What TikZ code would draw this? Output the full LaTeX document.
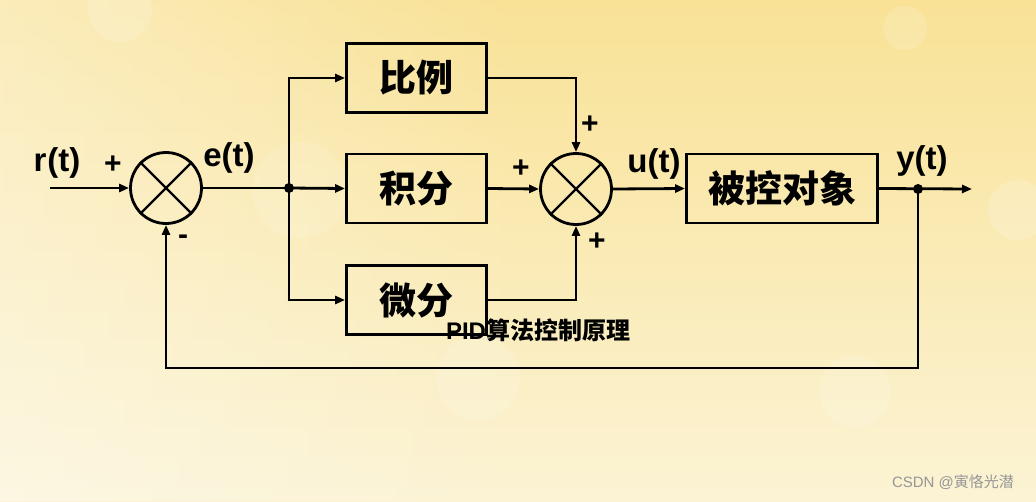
\documentclass[tikz,border=0pt]{standalone}
\usepackage{fontspec}
\setmainfont{Liberation Sans}
\newfontfamily\cjk{Noto Sans CJK SC}
\usetikzlibrary{arrows.meta,fadings}
\definecolor{bgtop}{RGB}{249,226,150}
\definecolor{bgbot}{RGB}{251,243,212}
\definecolor{wm}{RGB}{150,150,150}
\begin{document}
\begin{tikzpicture}[x=1pt,y=-1pt,
  line width=2.8pt,
  >={Triangle[length=10pt,width=8pt]},
  blk/.style={draw, rectangle, inner sep=0pt, minimum width=140pt, minimum height=69pt, font=\cjk\bfseries\fontsize{37}{40}\selectfont},
  sumnode/.style={draw, circle, inner sep=0pt, minimum size=71pt},
  lbl/.style={font=\bfseries\fontsize{33}{36}\selectfont, inner sep=0pt},
  sgn/.style={font=\bfseries\fontsize{30}{32}\selectfont, inner sep=0pt},
  jdot/.style={circle, fill=black, inner sep=0pt, minimum size=10pt}]
\useasboundingbox (0,0) rectangle (1036,501);
% background
\shade[top color=bgtop, bottom color=bgbot, draw=none] (0,0) rectangle (1036,501);
\fill[white, path fading=east, fill opacity=0.35, draw=none] (0,0) rectangle (520,501);
\begin{scope}[draw=none]
\fill[white, opacity=0.15] (120,10) circle (32);
\fill[white, opacity=0.15] (905,28) circle (22);
\fill[white, opacity=0.12] (300,190) circle (48);
\fill[white, opacity=0.15] (478,378) circle (42);
\fill[white, opacity=0.15] (855,392) circle (36);
\fill[white, opacity=0.18] (1018,210) circle (30);
\end{scope}
% nodes
\node[sumnode] (s1) at (166,188) {};
\draw[line width=2.2pt] (s1.45) -- (s1.225) (s1.135) -- (s1.-45);
\node[sumnode] (s2) at (576,189) {};
\draw[line width=2.2pt] (s2.45) -- (s2.225) (s2.135) -- (s2.-45);
\node[blk] (p) at (416.5,78) {比例};
\node[blk] (i) at (416.5,188.5) {积分};
\node[blk] (d) at (416.5,300) {微分};
\node[blk, minimum width=191pt] (g) at (782,188.5) {被控对象};
\node[jdot] (j1) at (289,188) {};
\node[jdot] (j2) at (918,189) {};
\coordinate (rin) at (50,188);
\coordinate (yout) at (972,189);
\coordinate (fb) at (918,368);
% connectors
\draw[->] (rin) -- (s1.west);
\draw (s1.east) -- (j1.center);
\draw[->] (j1.center) |- (p.west);
\draw[->] (j1.center) -- (i.west);
\draw[->] (j1.center) |- (d.west);
\draw[->] (p.east) -| (s2.north);
\draw[->] (i.east) -- (s2.west);
\draw[->] (d.east) -| (s2.south);
\draw[->] (s2.east) -- (g.west);
\draw[->] (g.east) -- (yout);
\draw[->] (j2.center) -- (fb) -| (s1.south);
% labels
\node[lbl] (lr) at (57,163) {r\kern1pt(t)};
\node[sgn] (pl1) at (113,165) {+};
\node[sgn] (mn1) at (183,240) {-};
\node[lbl] (le) at (229,158) {e(t)};
\node[sgn] (pl2) at (590,125) {+};
\node[sgn] (pl3) at (521,169) {+};
\node[sgn] (pl4) at (597,242) {+};
\node[lbl] (lu) at (654,164) {u(t)};
\node[lbl] (ly) at (922,161) {y(t)};
\node[font=\bfseries\fontsize{24}{26}\selectfont, inner sep=0pt] (cap) at (538,330) {PID{\cjk 算法控制原理}};
\node[text=wm, font=\fontsize{15}{17}\selectfont, inner sep=0pt] (wmk) at (953,482) {CSDN @{\cjk 寅恪光潜}};
\end{tikzpicture}
\end{document}
